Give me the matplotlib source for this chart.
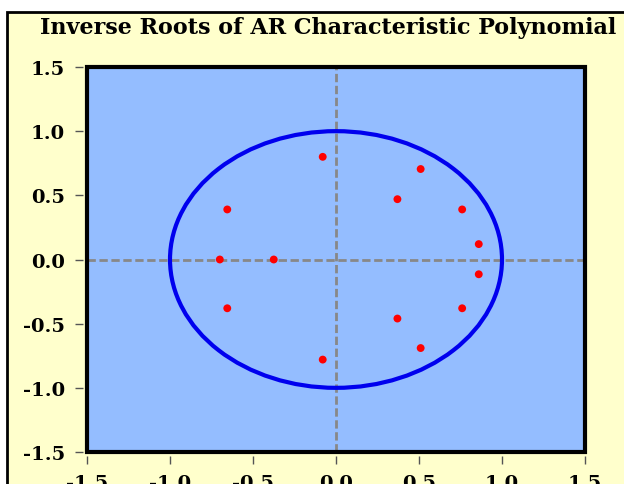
import numpy as np
import matplotlib
matplotlib.use("Agg")
import matplotlib.pyplot as plt
from matplotlib.patches import Circle, Rectangle

root_real = [-0.08, 0.51, 0.37, 0.76, 0.86, 0.86, 0.76, 0.37, 0.51, -0.08,
             -0.655, -0.655, -0.70, -0.375]
root_imag = [0.80, 0.705, 0.47, 0.39, 0.12, -0.115, -0.38, -0.46, -0.69, -0.78,
             0.39, -0.38, 0.0, 0.0]
tick_values = [-1.5, -1.0, -0.5, 0.0, 0.5, 1.0, 1.5]
title = "Inverse Roots of AR Characteristic Polynomial"

plt.rcParams["font.family"] = ["DejaVu Serif"]
plt.rcParams["font.weight"] = "bold"

fig = plt.figure(figsize=(6.24, 4.85), dpi=100, facecolor="white")
W, H = 624, 485
# yellow panel with black border (clipped on right/bottom like the screenshot)
fig.patches.append(Rectangle((7 / W, -0.05), 1.2, (H - 13) / H + 0.05,
                             transform=fig.transFigure, facecolor="#FFFFCC",
                             edgecolor="black", linewidth=2, zorder=-1))

ax = fig.add_axes([87 / W, (H - 453) / H, (585 - 87) / W, (453 - 68) / H])
ax.set_facecolor("#94BDFF")

ax.axhline(0, color="#888888", linestyle=(0, (3, 1.3)), linewidth=2, zorder=1)
ax.axvline(0, color="#888888", linestyle=(0, (3, 1.3)), linewidth=2, zorder=1)
ax.add_patch(Circle((0, 0), 1.0, fill=False, edgecolor="#0000EE", linewidth=3, zorder=2))
ax.scatter(root_real, root_imag, s=32, color="#FF0000", edgecolors="none", zorder=3)

ax.set_xlim(-1.5, 1.5)
ax.set_ylim(-1.5, 1.5)
ax.set_xticks(tick_values)
ax.set_yticks(tick_values)
ax.set_xticklabels(["%.1f" % v for v in tick_values])
ax.set_yticklabels(["%.1f" % v for v in tick_values])

for name, spine in ax.spines.items():
    spine.set_visible(False)
    spine.set_position(("outward", 3))
ax.add_patch(Rectangle((0, 0), 1, 1, transform=ax.transAxes, fill=False,
                       edgecolor="black", linewidth=3, clip_on=False, zorder=5))
ax.tick_params(axis="both", direction="out", length=6, width=1, color="#555555",
               labelsize=14, pad=7)

fig.text(0.5 + 16 / W, 1 - 28 / H, title, ha="center", va="center",
         fontsize=16, fontweight="bold")

fig.savefig("out.png", dpi=100, facecolor=fig.get_facecolor())
